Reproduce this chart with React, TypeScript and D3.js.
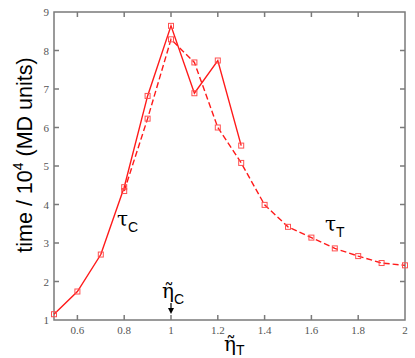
import React, { useRef, useEffect } from 'react';
import * as d3 from 'd3';

// tau_C (solid line)
const etaC = [0.5, 0.6, 0.7, 0.8, 0.9, 1.0, 1.1, 1.2, 1.3];
const tauC = [1.15, 1.74, 2.7, 4.45, 6.82, 8.64, 6.89, 7.74, 5.53];

// tau_T (dashed line)
const etaT = [0.8, 0.9, 1.0, 1.1, 1.2, 1.3, 1.4, 1.5, 1.6, 1.7, 1.8, 1.9, 2.0];
const tauT = [4.35, 6.23, 8.29, 7.69, 6.0, 5.08, 3.99, 3.42, 3.14, 2.86, 2.66, 2.48, 2.42];

const xTicks = [0.6, 0.8, 1, 1.2, 1.4, 1.6, 1.8, 2];
const yTicks = [1, 2, 3, 4, 5, 6, 7, 8, 9];

const App = () => {
  const svgRef = useRef<SVGSVGElement>(null);
  const width = 415;
  const height = 358;

  useEffect(() => {
    const svg = d3.select(svgRef.current);
    svg.selectAll('*').remove();

    const margin = { top: 12, right: 10, bottom: 38, left: 54 };
    const x = d3.scaleLinear().domain([0.5, 2]).range([margin.left, width - margin.right]);
    const y = d3.scaleLinear().domain([1, 9]).range([height - margin.bottom, margin.top]);

    const axisColor = '#7a7a7a';
    const red = '#ff1a1a';
    const tick = 5;

    // frame
    svg.append('rect')
      .attr('x', x(0.5))
      .attr('y', y(9))
      .attr('width', x(2) - x(0.5))
      .attr('height', y(1) - y(9))
      .attr('fill', 'none')
      .attr('stroke', axisColor)
      .attr('stroke-width', 1.5);

    // ticks on all four sides, pointing inward
    const g = svg.append('g').attr('stroke', axisColor).attr('stroke-width', 1.5);
    xTicks.filter(t => t < 2).forEach(t => {
      g.append('line').attr('x1', x(t)).attr('x2', x(t)).attr('y1', y(1)).attr('y2', y(1) - tick);
      g.append('line').attr('x1', x(t)).attr('x2', x(t)).attr('y1', y(9)).attr('y2', y(9) + tick);
    });
    yTicks.filter(t => t > 1 && t < 9).forEach(t => {
      g.append('line').attr('x1', x(0.5)).attr('x2', x(0.5) + tick).attr('y1', y(t)).attr('y2', y(t));
      g.append('line').attr('x1', x(2)).attr('x2', x(2) - tick).attr('y1', y(t)).attr('y2', y(t));
    });

    // tick labels
    svg.append('g')
      .selectAll('text')
      .data(xTicks)
      .enter()
      .append('text')
      .attr('x', d => x(d))
      .attr('y', y(1) + 14)
      .attr('text-anchor', 'middle')
      .attr('font-family', 'Liberation Serif, serif')
      .attr('font-size', 11)
      .attr('fill', '#555')
      .text(d => String(d));

    svg.append('g')
      .selectAll('text')
      .data(yTicks)
      .enter()
      .append('text')
      .attr('x', x(0.5) - 5)
      .attr('y', d => y(d) + 4)
      .attr('text-anchor', 'end')
      .attr('font-family', 'Liberation Serif, serif')
      .attr('font-size', 11)
      .attr('fill', '#555')
      .text(d => String(d));

    // lines
    const line = d3.line<[number, number]>()
      .x(d => x(d[0]))
      .y(d => y(d[1]));

    const cData = etaC.map((e, i) => [e, tauC[i]] as [number, number]);
    const tData = etaT.map((e, i) => [e, tauT[i]] as [number, number]);

    svg.append('path')
      .datum(tData)
      .attr('d', line)
      .attr('fill', 'none')
      .attr('stroke', red)
      .attr('stroke-width', 1.4)
      .attr('stroke-dasharray', '6,3');

    svg.append('path')
      .datum(cData)
      .attr('d', line)
      .attr('fill', 'none')
      .attr('stroke', red)
      .attr('stroke-width', 1.4);

    // square markers
    const s = 5;
    svg.append('g')
      .selectAll('rect')
      .data(cData.concat(tData))
      .enter()
      .append('rect')
      .attr('x', d => x(d[0]) - s / 2)
      .attr('y', d => y(d[1]) - s / 2)
      .attr('width', s)
      .attr('height', s)
      .attr('fill', 'none')
      .attr('stroke', '#ff5050')
      .attr('stroke-width', 1);

    // curve labels
    const greek = (px: number, py: number, sym: string, sub: string, dy = 6) => {
      const t = svg.append('text')
        .attr('x', px)
        .attr('y', py)
        .attr('fill', '#000');
      t.append('tspan')
        .attr('font-family', 'DejaVu Serif, serif')
        .attr('font-size', 20)
        .text(sym);
      t.append('tspan')
        .attr('font-family', 'Liberation Sans, Arial, sans-serif')
        .attr('font-size', 14)
        .attr('dy', dy)
        .text(sub);
    };
    greek(117, 226, 'τ', 'C');
    greek(325, 231, 'τ', 'T');

    // eta tilde labels
    greek(162, 298, 'η̃', 'C');
    greek(224, 351, 'η̃', 'T', 4);

    // arrow at eta_C
    svg.append('line')
      .attr('x1', x(1)).attr('x2', x(1))
      .attr('y1', 303).attr('y2', 310)
      .attr('stroke', '#000').attr('stroke-width', 1.2);
    svg.append('path')
      .attr('d', `M${x(1) - 3},${308} L${x(1) + 3},${308} L${x(1)},${314} Z`)
      .attr('fill', '#000');

    // y axis label
    const yl = svg.append('text')
      .attr('transform', `translate(32, 155) rotate(-90)`)
      .attr('text-anchor', 'middle')
      .attr('font-family', 'Liberation Sans, Arial, sans-serif')
      .attr('font-size', 21.5)
      .attr('fill', '#000');
    yl.append('tspan').text('time / 10');
    yl.append('tspan').attr('font-size', 14).attr('dy', -9).text('4');
    yl.append('tspan').attr('dy', 9).text(' (MD units)');
  }, []);

  return (
    <svg
      ref={svgRef}
      width={width}
      height={height}
      style={{ position: 'absolute', left: 0, top: 0, background: '#fff' }}
    />
  );
};

export default App;
